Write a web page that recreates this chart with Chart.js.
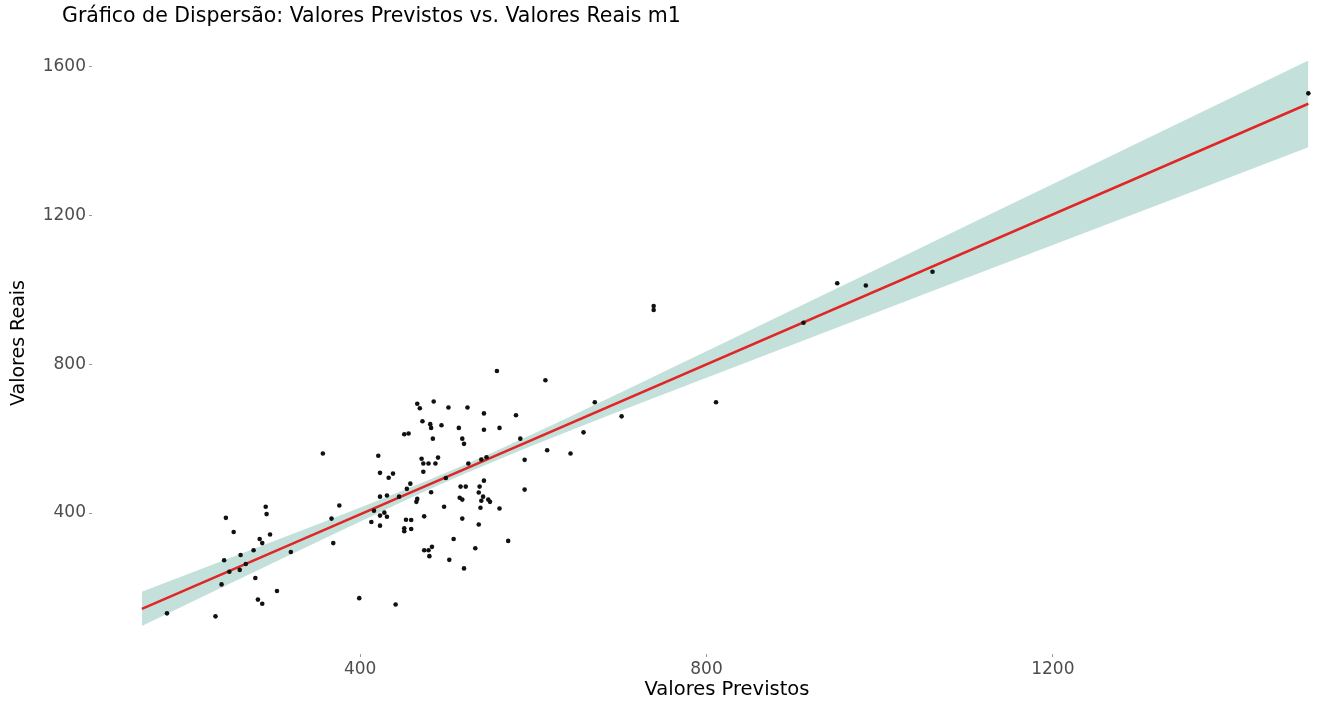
<!DOCTYPE html>
<html>
<head>
<meta charset="utf-8">
<title>Valores Previstos vs. Valores Reais</title>
<script src="https://cdn.jsdelivr.net/npm/chart.js@4.4.1/dist/chart.umd.min.js"></script>
<style>
  html, body { margin: 0; padding: 0; background: #fff; }
  #wrap { width: 1319px; height: 710px; position: relative; }
</style>
</head>
<body>
<div id="wrap"><canvas id="scatter"></canvas></div>
<script>
const previstos = [
  291, 292, 245, 254, 284, 287, 296, 277, 262, 243, 268, 249, 261, 320, 279, 240, 304, 282, 287, 177, 233,
  558, 614, 466, 469, 485, 502, 524, 543, 580, 472, 481, 482, 494, 514, 543, 561, 451, 456, 484, 518, 520,
  585, 357, 421, 471, 490, 473, 479, 487, 473, 525, 540, 546, 590, 616, 423, 438, 433, 499, 458, 454, 543,
  516, 522, 538, 482, 537, 590, 423, 431, 445, 515, 518, 542, 540, 548, 550, 466, 465, 376, 497, 539, 561,
  416, 428, 423, 431, 474, 367, 518, 413, 453, 459, 423, 537, 451, 459, 451, 508, 571, 369, 533, 474, 479,
  483, 480, 503, 520, 399, 441, 671, 702, 658, 643, 739, 739, 951, 984, 1061, 912, 811, 1495
];
const reais = [
  417, 397, 387, 349, 330, 319, 342, 300, 287, 273, 263, 242, 247, 295, 225, 208, 190, 167, 156, 130, 122,
  782, 757, 694, 682, 700, 684, 684, 668, 663, 647, 639, 629, 636, 629, 624, 629, 612, 614, 600, 600, 586,
  600, 560, 554, 546, 549, 533, 533, 533, 511, 533, 544, 550, 543, 569, 508, 506, 495, 494, 479, 465, 487,
  471, 471, 471, 456, 455, 463, 444, 447, 444, 441, 436, 444, 433, 436, 430, 438, 430, 420, 417, 414, 412,
  406, 401, 393, 390, 391, 385, 385, 376, 382, 381, 366, 369, 359, 357, 351, 330, 325, 319, 305, 300, 300,
  309, 284, 274, 251, 171, 154, 698, 660, 617, 560, 957, 946, 1018, 1012, 1049, 912, 698, 1529
];

// reta ajustada (extremos) e faixa de confiança
const retaX = [148, 1495];
const retaY = [142, 1501];
const faixaX = [148, 300, 420, 520, 650, 800, 1000, 1200, 1495];
const faixaInf = [96, 266, 399, 505, 629, 764, 943, 1121, 1384];
const faixaSup = [188, 324, 433, 529, 668, 835, 1060, 1285, 1617];

const xTicks = [400, 800, 1200];
const yTicks = [400, 800, 1200, 1600];

const TITULO = 'Gráfico de Dispersão: Valores Previstos vs. Valores Reais m1';
const TITULO_X = 'Valores Previstos';
const TITULO_Y = 'Valores Reais';

const pares = (xs, ys) => xs.map((x, i) => ({ x, y: ys[i] }));

Chart.defaults.font.family = '"DejaVu Sans", sans-serif';

// título e rótulo do eixo x desenhados à mão, como no ggplot
const textos = {
  id: 'textos',
  afterDraw(chart) {
    const ctx = chart.ctx;
    ctx.save();
    ctx.fillStyle = '#000';
    ctx.textBaseline = 'middle';
    ctx.font = '20.5px "DejaVu Sans"';
    ctx.textAlign = 'left';
    ctx.fillText(TITULO, 62, 17);
    ctx.font = '19.5px "DejaVu Sans"';
    ctx.textAlign = 'center';
    ctx.fillText(TITULO_X, 727, 690);
    ctx.restore();
  }
};

const tickStyle = { color: '#4d4d4d', font: { size: 17 }, padding: 2, callback: v => String(v) };
const gridStyle = { drawOnChartArea: false, drawTicks: true, tickLength: 3, color: '#999', lineWidth: 1 };

new Chart(document.getElementById('scatter'), {
  type: 'line',
  data: {
    datasets: [
      {
        label: 'pontos',
        data: pares(previstos, reais),
        showLine: false,
        pointRadius: 2.3,
        pointBackgroundColor: '#111',
        pointBorderWidth: 0
      },
      {
        label: 'reta',
        data: pares(retaX, retaY),
        borderColor: '#e02626',
        borderWidth: 2.5,
        pointRadius: 0,
        fill: false
      },
      {
        label: 'inf',
        data: pares(faixaX, faixaInf),
        borderWidth: 0,
        pointRadius: 0,
        cubicInterpolationMode: 'monotone',
        fill: false
      },
      {
        label: 'sup',
        data: pares(faixaX, faixaSup),
        borderWidth: 0,
        pointRadius: 0,
        cubicInterpolationMode: 'monotone',
        backgroundColor: 'rgba(105,179,162,0.4)',
        fill: '-1'
      }
    ]
  },
  options: {
    responsive: true,
    maintainAspectRatio: false,
    animation: false,
    layout: { padding: { top: 32, left: 0, right: 0, bottom: 0 } },
    plugins: {
      legend: { display: false },
      tooltip: { enabled: false },
      filler: { drawTime: 'beforeDatasetsDraw' }
    },
    scales: {
      x: {
        type: 'linear',
        min: 90.4,
        max: 1502.7,
        afterBuildTicks: s => { s.ticks = xTicks.map(v => ({ value: v })); },
        afterFit: s => { s.height = 56; },
        ticks: tickStyle,
        grid: gridStyle,
        border: { display: false }
      },
      y: {
        type: 'linear',
        min: 20.7,
        max: 1694,
        afterBuildTicks: s => { s.ticks = yTicks.map(v => ({ value: v })); },
        afterFit: s => { s.width = 92; },
        ticks: { ...tickStyle, padding: 3 },
        grid: gridStyle,
        border: { display: false },
        title: {
          display: true,
          text: TITULO_Y,
          color: '#000',
          font: { size: 19 },
          padding: { top: 8, bottom: 0 }
        }
      }
    }
  },
  plugins: [textos]
});
</script>
</body>
</html>
